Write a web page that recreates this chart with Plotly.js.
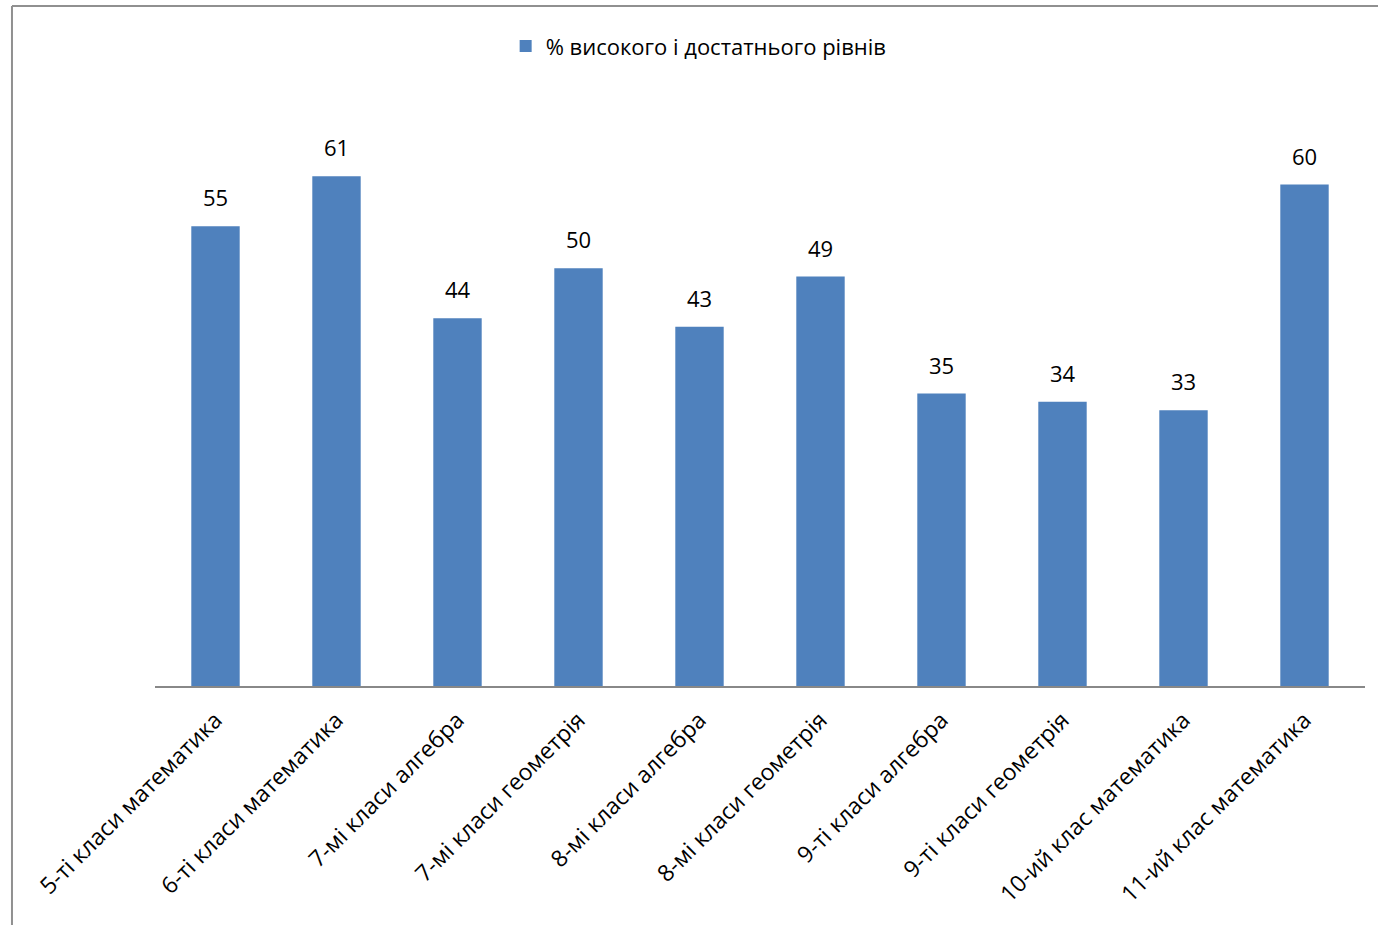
<!DOCTYPE html>
<html><head><meta charset="utf-8">
<script src="https://cdn.plot.ly/plotly-3.0.1.min.js"></script>
<style>html,body{margin:0;padding:0;background:#fff;}#chart{width:1378px;height:925px;}</style>
</head><body><div id="chart"></div>
<script>
const categories = ["5-ті класи математика","6-ті класи математика","7-мі класи алгебра","7-мі класи геометрія","8-мі класи алгебра","8-мі класи геометрія","9-ті класи алгебра","9-ті класи геометрія","10-ий клас математика","11-ий клас математика"];
const values = [55, 61, 44, 50, 43, 49, 35, 34, 33, 60];
const seriesName = "% високого і достатнього рівнів";

const font = "Open Sans, Liberation Sans, sans-serif";
const trace = {
  type: "bar", x: categories, y: values, name: seriesName,
  marker: {color: "#4F81BD"},
  width: 0.4
};
const annotations = categories.map((c, i) => ({
  x: c, y: values[i], xref: "x", yref: "y", text: String(values[i]),
  showarrow: false, yanchor: "bottom", yshift: 12,
  font: {family: font, size: 22, color: "#000"}
}));
const layout = {
  width: 1378, height: 925,
  margin: {l: 155, r: 13, t: 101, b: 239},
  paper_bgcolor: "#fff", plot_bgcolor: "#fff",
  showlegend: true,
  legend: {orientation: "h", x: 0.507, xanchor: "center", xref: "container", y: 0.95, yref: "container", yanchor: "middle",
           font: {family: font, size: 22, color: "#000"}},
  xaxis: {type: "category", tickangle: -45, showline: true, linecolor: "#888", linewidth: 1.5,
          ticks: "outside", ticklen: 10, tickcolor: "rgba(0,0,0,0)", showgrid: false,
          tickfont: {family: font, size: 23, color: "#000"}, automargin: false},
  yaxis: {range: [0, 70], visible: false, showgrid: false, zeroline: false},
  annotations: annotations,
  shapes: [
    {type: "line", xref: "paper", yref: "paper", x0: -0.1182, x1: -0.1182, y0: -0.5, y1: 1.1624, line: {color: "#909090", width: 2}},
    {type: "line", xref: "paper", yref: "paper", x0: -0.1182, x1: 1.02, y0: 1.1624, y1: 1.1624, line: {color: "#909090", width: 2}}
  ]
};
Plotly.newPlot("chart", [trace], layout, {displayModeBar: false, staticPlot: true});
</script></body></html>
